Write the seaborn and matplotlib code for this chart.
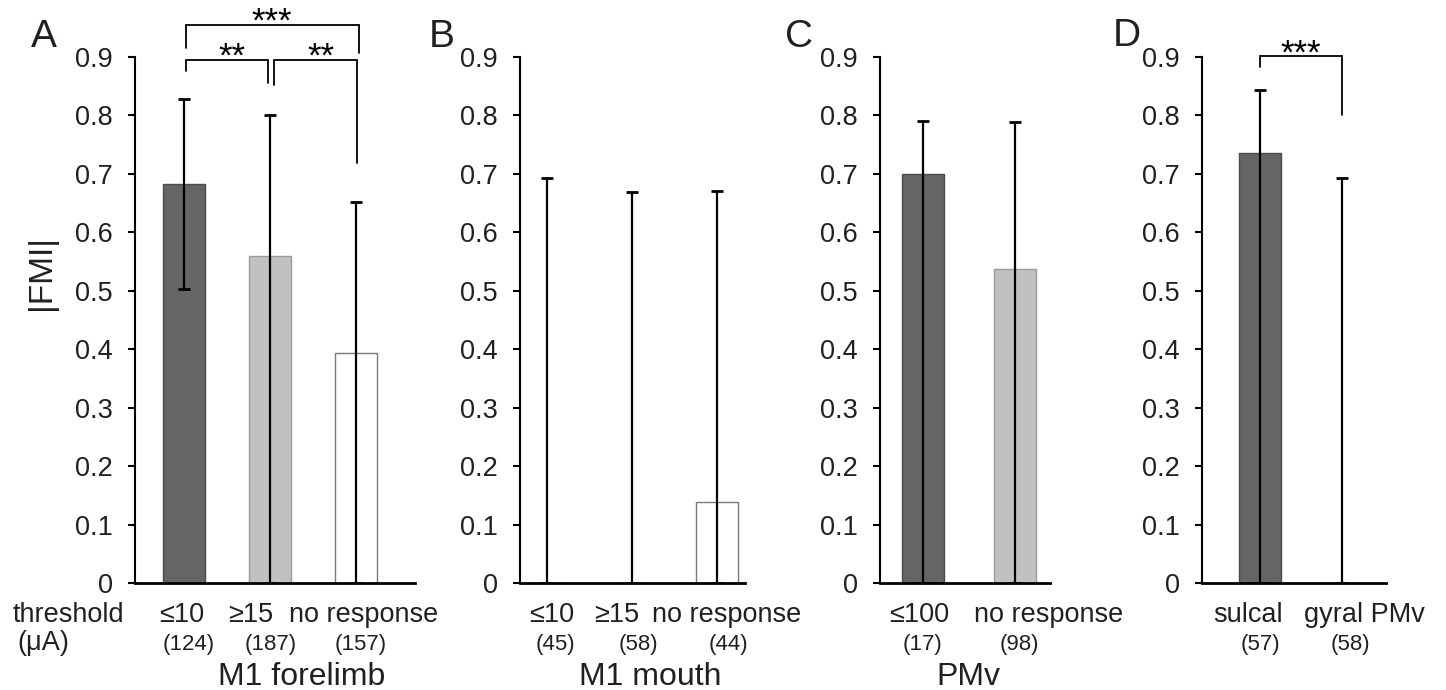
import matplotlib
matplotlib.use("Agg")
import matplotlib.pyplot as plt
import seaborn as sns
import numpy as np
import pandas as pd

# ---------------- data ----------------
a_cats = ["≤10", "≥15", "no response"]
a_n = ["(124)", "(187)", "(157)"]
a_mean = [0.683, 0.559, 0.393]
a_low = [0.502, 0.0, 0.0]
a_high = [0.828, 0.800, 0.652]

b_cats = ["≤10", "≥15", "no response"]
b_n = ["(45)", "(58)", "(44)"]
b_mean = [0.0, 0.0, 0.139]
b_low = [0.0, 0.0, 0.0]
b_high = [0.693, 0.668, 0.670]

c_cats = ["≤100", "no response"]
c_n = ["(17)", "(98)"]
c_mean = [0.700, 0.537]
c_low = [0.0, 0.0]
c_high = [0.790, 0.788]

d_cats = ["sulcal", "gyral PMv"]
d_n = ["(57)", "(58)"]
d_mean = [0.735, 0.0]
d_low = [0.0, 0.0]
d_high = [0.843, 0.692]

group_labels = ["M1 forelimb", "M1 mouth", "PMv", ""]
panel_letters = ["A", "B", "C", "D"]
y_ticks = [0, 0.1, 0.2, 0.3, 0.4, 0.5, 0.6, 0.7, 0.8, 0.9]
y_ticklabels = ["0", "0.1", "0.2", "0.3", "0.4", "0.5", "0.6", "0.7", "0.8", "0.9"]
y_label = "|FMI|"
threshold_label = ["threshold", "(μA)"]

# significance: (from, to, stars)
a_sig = [(0, 2, "***"), (0, 1, "**"), (1, 2, "**")]
d_sig = [(0, 1, "***")]

# ---------------- style ----------------
DARK, LIGHT, WHITE = "#646567", "#c0c1c3", "#ffffff"
EDGE = {"dark": "#4a4b4d", "light": "#9a9b9d", "white": "#7a7a7a"}
TXT = "#231f20"

sns.set_theme(style="white")
plt.rcParams["font.family"] = ["Liberation Sans", "DejaVu Sans"]

W, H = 1446, 690
Y0, Y9 = 583.0, 56.7  # pixel rows of 0 and 0.9
fig = plt.figure(figsize=(W / 100, H / 100), dpi=100)


def yfrac(ypx):
    return (Y0 - ypx) / (Y0 - Y9)


def fy(ypx):
    return 1 - ypx / H


panels = [
    dict(cats=a_cats, n=a_n, mean=a_mean, low=a_low, high=a_high,
         colors=[DARK, LIGHT, WHITE], edges=["dark", "light", "white"],
         px=(135, 415), xlim=(-0.57, 2.686), width=0.49,
         lab_dx=[-0.03, -0.23, 0.09], n_dx=[0.05, 0.01, 0.06], grp_x=1.37,
         letter_px=(31, 47)),
    dict(cats=b_cats, n=b_n, mean=b_mean, low=b_low, high=b_high,
         colors=[DARK, LIGHT, WHITE], edges=["dark", "light", "white"],
         px=(520, 745), xlim=(-0.318, 2.329), width=0.49,
         lab_dx=[0.06, -0.18, 0.11], n_dx=[0.10, 0.08, 0.14], grp_x=1.21,
         letter_px=(429, 47)),
    dict(cats=c_cats, n=c_n, mean=c_mean, low=c_low, high=c_high,
         colors=[DARK, LIGHT], edges=["dark", "light"],
         px=(880, 1050), xlim=(-0.467, 1.38), width=0.457,
         lab_dx=[-0.04, 0.37], n_dx=[0.0, 0.05], grp_x=0.49,
         letter_px=(785, 47)),
    dict(cats=d_cats, n=d_n, mean=d_mean, low=d_low, high=d_high,
         colors=[DARK, WHITE], edges=["dark", "white"],
         px=(1202, 1386), xlim=(-0.707, 1.537), width=0.52,
         lab_dx=[-0.15, 0.28], n_dx=[0.0, 0.10], grp_x=0.5,
         letter_px=(1113, 46)),
]

axes = []
for i, p in enumerate(panels):
    l, r = p["px"]
    ax = fig.add_axes([l / W, (H - Y0) / H, (r - l) / W, (Y0 - Y9) / H])
    axes.append(ax)
    df = pd.DataFrame({"cat": p["cats"], "val": p["mean"]})
    sns.barplot(data=df, x="cat", y="val", hue="cat", palette=p["colors"],
                saturation=1, width=p["width"], legend=False, ax=ax,
                linewidth=1.0, edgecolor="black")
    for patch, ek in zip(ax.patches, p["edges"]):
        patch.set_edgecolor(EDGE[ek])
        patch.set_linewidth(1.0)
    xs = np.arange(len(p["cats"]))
    mean = np.array(p["mean"])
    yerr = [mean - np.array(p["low"]), np.array(p["high"]) - mean]
    ax.errorbar(xs, mean, yerr=yerr, fmt="none", ecolor="black",
                elinewidth=1.6, capsize=4.5, capthick=2.0, zorder=3)

    ax.set_xlim(*p["xlim"])
    ax.set_ylim(0, 0.9)
    ax.set_yticks(y_ticks)
    ax.set_yticklabels(y_ticklabels)
    ax.set_xticks([])
    ax.set_xlabel("")
    ax.set_ylabel("")
    ax.tick_params(axis="y", direction="out", length=5, width=1.5, pad=11,
                   labelsize=19.5, colors="black", labelcolor=TXT, left=True)
    for s in ["top", "right"]:
        ax.spines[s].set_visible(False)
    ax.spines["left"].set_linewidth(1.5)
    ax.spines["left"].set_color("black")
    ax.spines["bottom"].set_linewidth(2.0)
    ax.spines["bottom"].set_color("black")
    ax.patch.set_alpha(0)

    tr = ax.get_xaxis_transform()
    for j, (c, nn) in enumerate(zip(p["cats"], p["n"])):
        ax.text(j + p["lab_dx"][j], yfrac(622), c, transform=tr, ha="center",
                va="baseline", fontsize=19.5, color=TXT, clip_on=False)
        ax.text(j + p["n_dx"][j], yfrac(650), nn, transform=tr, ha="center",
                va="baseline", fontsize=16, color=TXT, clip_on=False)
    if group_labels[i]:
        ax.text(p["grp_x"], yfrac(685), group_labels[i], transform=tr,
                ha="center", va="baseline", fontsize=23, color=TXT, clip_on=False)

    lx, ly = p["letter_px"]
    fig.text(lx / W, fy(ly), panel_letters[i], ha="left", va="baseline",
             fontsize=28, color=TXT)


def bracket(ax, x0, x1, ytop, yl, yr, stars, xt, yt):
    ax.plot([x0, x0, x1, x1], [yl, ytop, ytop, yr], color="black", lw=1.3,
            clip_on=False, solid_joinstyle="miter")
    ax.text(xt, yt, stars, ha="center", va="baseline", fontsize=25,
            color="black", clip_on=False)


axA, axD = axes[0], axes[3]
# A brackets (geometry per comparison)
a_geom = [
    dict(x0=0.02, x1=2.03, ytop=0.954, yl=0.915, yr=0.906, xt=1.02, yt=0.943),
    dict(x0=0.02, x1=0.977, ytop=0.894, yl=0.875, yr=0.855, xt=0.56, yt=0.883),
    dict(x0=1.047, x1=2.01, ytop=0.894, yl=0.851, yr=0.718, xt=1.59, yt=0.883),
]
for (i0, i1, st), g in zip(a_sig, a_geom):
    bracket(axA, g["x0"], g["x1"], g["ytop"], g["yl"], g["yr"], st, g["xt"], g["yt"])
for (i0, i1, st) in d_sig:
    bracket(axD, i0, i1, 0.901, 0.882, 0.800, st, (i0 + i1) / 2, 0.888)

# y label and threshold label
fig.text(41 / W, fy(272), y_label, rotation=90, ha="center", va="center",
         fontsize=24, color=TXT)
fig.text(13 / W, fy(622), threshold_label[0], ha="left", va="baseline",
         fontsize=19.5, color=TXT)
fig.text(17 / W, fy(650), threshold_label[1], ha="left", va="baseline",
         fontsize=19.5, color=TXT)

fig.savefig("out.png", dpi=100, facecolor="white")
